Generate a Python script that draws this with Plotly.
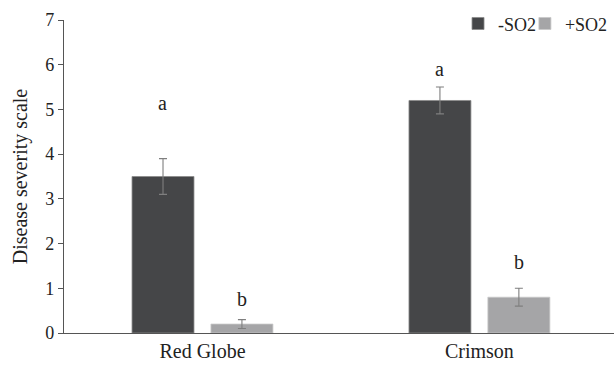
import plotly.graph_objects as go

categories = ["Red Globe", "Crimson"]
series_names = ["-SO2", "+SO2"]
minus_so2 = [3.5, 5.2]
minus_so2_err = [0.4, 0.3]
plus_so2 = [0.2, 0.8]
plus_so2_err = [0.1, 0.2]
minus_letters = ["a", "a"]
plus_letters = ["b", "b"]
minus_letter_y = [5.15, 5.9]
plus_letter_y = [0.76, 1.58]
y_ticks = [0, 1, 2, 3, 4, 5, 6, 7]

dark = "#454648"
light = "#a5a5a7"
font = "Liberation Serif"

fig = go.Figure()
fig.add_trace(go.Bar(
    name=series_names[0], x=categories, y=minus_so2, legend="legend",
    marker=dict(color=dark, line=dict(color="#8a8a8a", width=0.8)),
    error_y=dict(type="data", array=minus_so2_err, color="#7f7f7f", thickness=1.1, width=4),
))
fig.add_trace(go.Bar(
    name=series_names[1], x=categories, y=plus_so2, legend="legend2",
    marker=dict(color=light, line=dict(color="#c8c8c8", width=0.8)),
    error_y=dict(type="data", array=plus_so2_err, color="#7f7f7f", thickness=1.1, width=4),
))

annotations = []
for i, c in enumerate(categories):
    annotations.append(dict(x=c, y=minus_letter_y[i], text=minus_letters[i], showarrow=False,
                            xshift=-39.5, font=dict(family=font, size=20, color="#222")))
    annotations.append(dict(x=c, y=plus_letter_y[i], text=plus_letters[i], showarrow=False,
                            xshift=39.5, font=dict(family=font, size=20, color="#222")))

legend_common = dict(orientation="h", xanchor="left", y=1.047, yanchor="top",
                     font=dict(family=font, size=18, color="#222"),
                     itemwidth=30, bgcolor="rgba(0,0,0,0)")

fig.update_layout(
    width=614, height=366,
    margin=dict(l=64, r=0, t=20, b=33, autoexpand=False),
    paper_bgcolor="white", plot_bgcolor="white",
    barmode="group", bargap=0.43, bargroupgap=0.215,
    font=dict(family=font, size=18, color="#333"),
    annotations=annotations,
    showlegend=True,
    legend=dict(x=0.7164, **legend_common),
    legend2=dict(x=0.838, **legend_common),
    xaxis=dict(showline=True, linecolor="#555", linewidth=1.2, ticks="",
               range=[-0.5, 1.486], showgrid=False, automargin=False,
               tickfont=dict(family=font, size=20, color="#222")),
    yaxis=dict(range=[0, 7], tickvals=y_ticks, showline=True, linecolor="#555", linewidth=1.2,
               ticks="outside", ticklen=5, tickcolor="#555", showgrid=False, zeroline=False,
               automargin=False,
               tickfont=dict(family=font, size=18, color="#222"),
               title=dict(text="Disease severity scale", standoff=12,
                          font=dict(family=font, size=20, color="#222"))),
)

fig.write_html("out.html", config={"displayModeBar": False},
               post_script="document.body.style.margin='0';document.body.style.padding='0';")
